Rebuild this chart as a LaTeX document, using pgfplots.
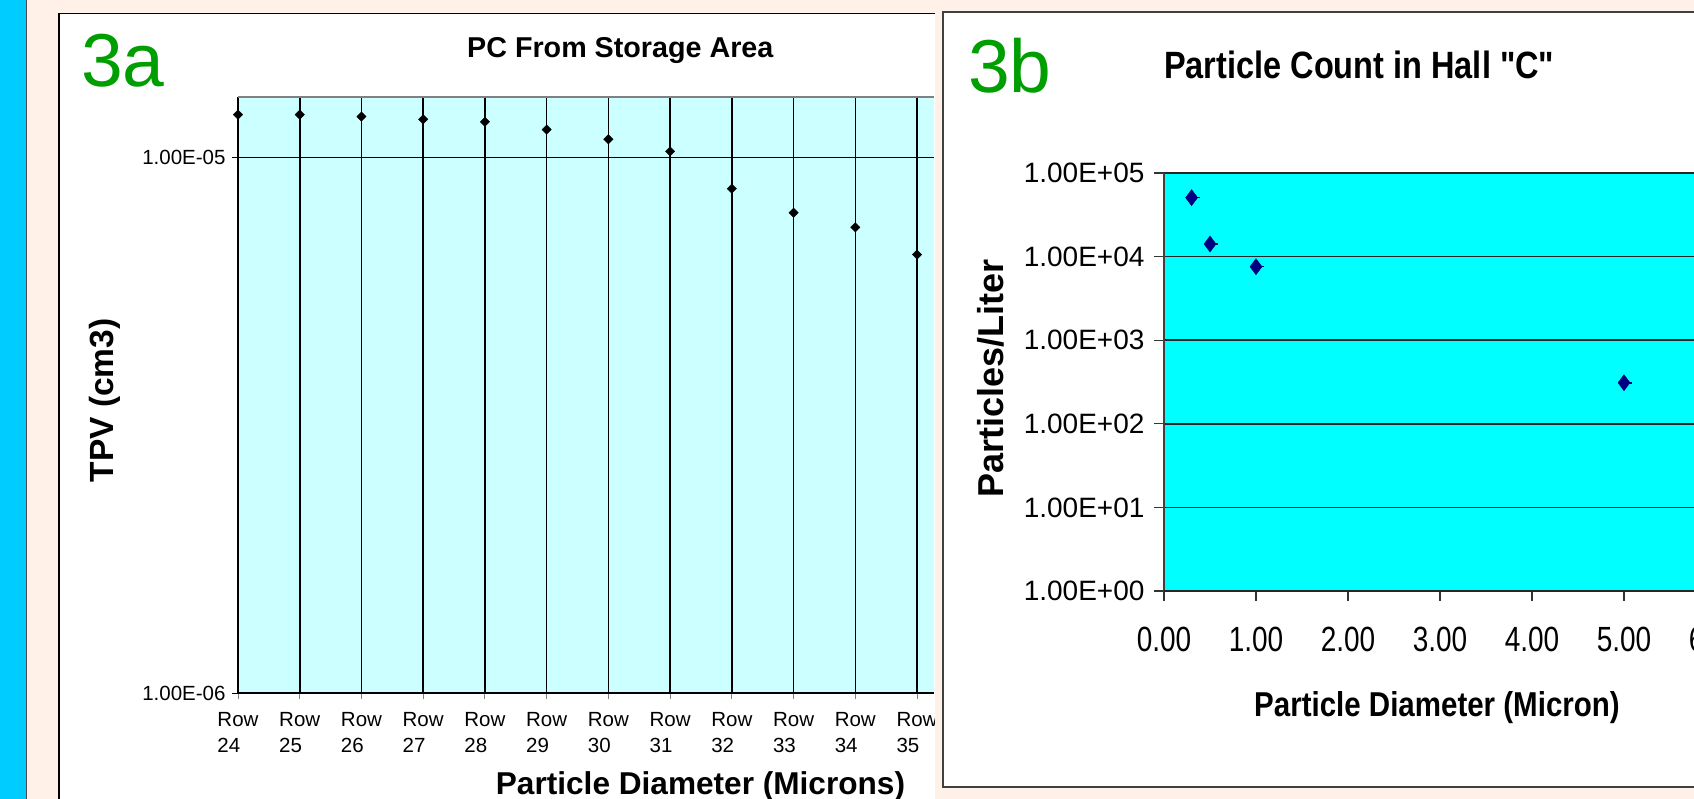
\documentclass[border=0pt]{standalone}
\usepackage{pgfplots}
\pgfplotsset{compat=1.18}
\usepackage{graphicx}
\usepackage{fontspec}
\setmainfont{Liberation Sans}
\definecolor{strip}{HTML}{00CCFF}
\definecolor{peach}{HTML}{FFF1E8}
\definecolor{lcyan}{HTML}{CCFFFF}
\definecolor{cyanbg}{HTML}{00FFFF}
\definecolor{labgreen}{HTML}{009E00}
\definecolor{navy}{HTML}{000080}
\newcommand{\sbx}[1]{\scalebox{1}[1.17]{#1}}
\newcommand{\sbt}[1]{\scalebox{1}[1.25]{#1}}
\newcommand{\fs}[2]{\fontsize{#1}{#2}\selectfont}
\begin{document}
\begin{tikzpicture}
\useasboundingbox (0pt,0pt) rectangle (1694pt,799pt);
\clip (0pt,0pt) rectangle (1694pt,799pt);
\fill[peach] (0pt,0pt) rectangle (1694pt,799pt);
\fill[strip] (0pt,0pt) rectangle (25.7pt,799pt);
\draw[black!70, line width=1.5pt] (26.5pt,0pt) -- (26.5pt,799pt);
% panel 3a
\fill[white] (59pt,-5pt) rectangle (934.5pt,785.7pt);
\draw[black, line width=1.5pt] (59pt,-5pt) -- (59pt,785.7pt) -- (934.5pt,785.7pt);
% panel 3b
\fill[white] (943pt,12pt) rectangle (1700pt,787pt);
\draw[black!75, line width=2pt] (1700pt,787pt) -- (943pt,787pt) -- (943pt,12pt) -- (1700pt,12pt);
% ---------- chart 3a ----------
\begin{scope}
\clip (0pt,0pt) rectangle (934.5pt,799pt);
\begin{axis}[
  at={(238pt,106pt)}, anchor=south west,
  scale only axis, width=696pt, height=596pt,
  xmin=0, xmax=11.275,
  ymode=log, ymin=1e-6, ymax=1.2975e-5,
  axis background/.style={fill=lcyan},
  axis line style={draw=none},
  clip=false,
  xtick={0,1,2,3,4,5,6,7,8,9,10,11},
  xticklabels={{Row\\24},{Row\\25},{Row\\26},{Row\\27},{Row\\28},{Row\\29},{Row\\30},{Row\\31},{Row\\32},{Row\\33},{Row\\34},{Row\\35}},
  xticklabel style={align=left, font=\fs{20.5}{26}, anchor=north, yshift=-10pt},
  ytick={1e-6,1e-5}, yticklabels={1.00E-06,1.00E-05},
  yticklabel style={font=\fs{20.5}{24}, anchor=east, xshift=-3pt},
  yminorticks=false,
  tick pos=left, tick align=outside, major tick length=6pt,
  xtick style={black!50, line width=1pt},
  ytick style={black, line width=1pt},
  xmajorgrids, ymajorgrids,
  major grid style={black, line width=1.6pt},
]
\draw[black!50, line width=1.5pt] (rel axis cs:0,1) -- (rel axis cs:1,1);
\draw[black, line width=2.2pt] (rel axis cs:0,0) -- (rel axis cs:1,0);
\addplot[only marks, mark=square*, mark size=3.3pt, mark options={rotate=45, black}] coordinates {
 (0,1.203e-5) (1,1.203e-5) (2,1.193e-5) (3,1.179e-5) (4,1.166e-5) (5,1.128e-5)
 (6,1.082e-5) (7,1.027e-5) (8,8.75e-6) (9,7.89e-6) (10,7.41e-6) (11,6.59e-6)};
\end{axis}
\end{scope}
\node[anchor=base west, inner sep=0, text=labgreen, font=\fs{75}{80}] at (81pt,712.3pt) {3a};
\node[anchor=base west, inner sep=0, font=\fs{28.7}{32}\bfseries] at (467pt,741.7pt) {PC From Storage Area};
\node[anchor=base, inner sep=0, rotate=90, font=\fs{33.5}{36}\bfseries] at (113pt,398.5pt) {TPV (cm3)};
\node[anchor=base, inner sep=0, font=\fs{31.6}{34}\bfseries] at (700.5pt,4pt) {Particle Diameter (Microns)};
% ---------- chart 3b ----------
\begin{axis}[
  at={(1164pt,208pt)}, anchor=south west,
  scale only axis, width=644pt, height=418pt,
  xmin=0, xmax=7,
  ymode=log, ymin=1, ymax=1e5,
  axis background/.style={fill=cyanbg},
  axis line style={draw=none},
  clip=false,
  xtick={0,1,2,3,4,5,6,7},
  xticklabels={\sbt{0.00},\sbt{1.00},\sbt{2.00},\sbt{3.00},\sbt{4.00},\sbt{5.00},\sbt{6.00},\sbt{7.00}},
  xticklabel style={font=\fs{28}{30}, anchor=north, yshift=-23pt},
  ytick={1,10,100,1000,10000,100000},
  yticklabels={1.00E+00,1.00E+01,1.00E+02,1.00E+03,1.00E+04,1.00E+05},
  yticklabel style={font=\fs{28}{30}, anchor=east, xshift=-6pt},
  yminorticks=false,
  tick pos=left, tick align=outside, major tick length=10pt,
  tick style={black!80, line width=1.3pt},
  ymajorgrids,
  major grid style={black!85, line width=1.5pt},
]
\draw[black!75, line width=1.5pt] (rel axis cs:0,0) -- (rel axis cs:0,1);
\draw[black!85, line width=1.5pt] (rel axis cs:0,0) -- (rel axis cs:1,0);
\addplot[only marks, mark=-, mark size=6pt, mark options={navy, line width=1.6pt, xshift=2pt}] coordinates {
 (0.3,50700) (0.5,14150) (1.0,7570) (5.0,310)};
\addplot[only marks, mark=diamond*, mark size=8pt, mark options={navy}] coordinates {
 (0.3,50700) (0.5,14150) (1.0,7570) (5.0,310)};
\end{axis}
\node[anchor=base west, inner sep=0, text=labgreen, font=\fs{75}{80}] at (968pt,706pt) {3b};
\node[anchor=base west, inner sep=0, font=\fs{32.5}{36}\bfseries] at (1164pt,720.7pt) {\sbx{Particle Count in Hall \textquotedbl C\textquotedbl}};
\node[anchor=base, inner sep=0, rotate=90, font=\fs{36}{40}\bfseries] at (1003pt,420.5pt) {Particles/Liter};
\node[anchor=base, inner sep=0, font=\fs{29.5}{32}\bfseries] at (1437pt,82pt) {\sbx{Particle Diameter (Micron)}};
\end{tikzpicture}
\end{document}
